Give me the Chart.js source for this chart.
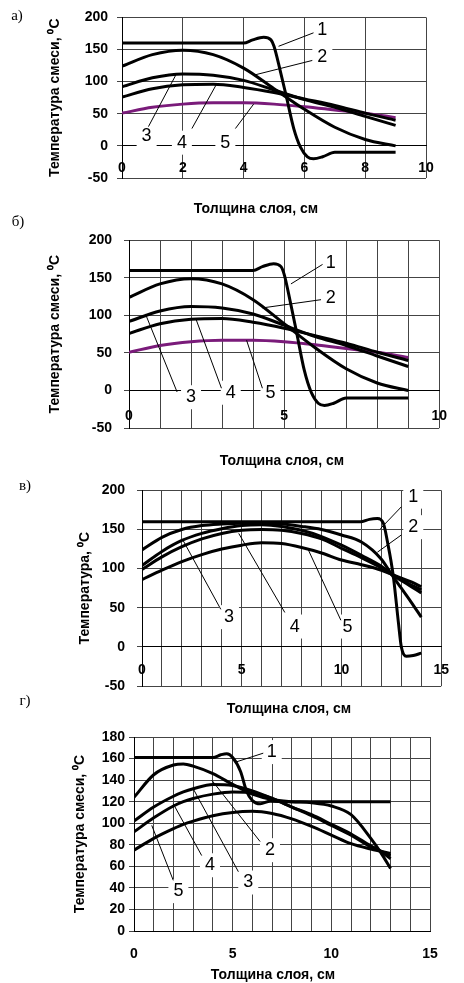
<!DOCTYPE html>
<html>
<head>
<meta charset="utf-8">
<script src="https://cdn.jsdelivr.net/npm/chart.js@4.4.1/dist/chart.umd.min.js"></script>
<style>
  html, body { margin: 0; padding: 0; background: #fff; }
  #page { position: relative; width: 464px; height: 983px; overflow: hidden; }
  #page canvas { position: absolute; left: 0; }
  .txt { position: absolute; transform: translate(-50%, -50%); white-space: nowrap; color: #000; }
  .letter { font: 15px 'Liberation Serif', 'Times New Roman', serif; }
  .xtitle { font: bold 14px 'Liberation Sans', Arial, sans-serif; }
</style>
</head>
<body>
<div id="page">
  <canvas id="chart-a" width="464" height="220" style="top:0px"></canvas>
  <canvas id="chart-b" width="464" height="250" style="top:220px"></canvas>
  <canvas id="chart-c" width="464" height="250" style="top:470px"></canvas>
  <canvas id="chart-d" width="464" height="263" style="top:720px"></canvas>

  <div class="txt letter" style="left:17px;top:15px">а)</div>
  <div class="txt letter" style="left:18px;top:221px">б)</div>
  <div class="txt letter" style="left:25px;top:485px">в)</div>
  <div class="txt letter" style="left:25px;top:700px">г)</div>

  <div class="txt xtitle" style="left:256px;top:208px">Толщина слоя, см</div>
  <div class="txt xtitle" style="left:282px;top:460px">Толщина слоя, см</div>
  <div class="txt xtitle" style="left:289px;top:708px">Толщина слоя, см</div>
  <div class="txt xtitle" style="left:273px;top:974px">Толщина слоя, см</div>
</div>
<script>
// а) и б): same curves
const xA1 = [0, 1, 2, 3, 4, 4.3, 4.66, 4.9, 5.0, 5.2, 5.4, 5.65, 5.87, 6.1, 6.3, 6.6, 7, 8, 9];
const yA1 = [160, 160, 160, 160, 160, 165, 169, 165, 155, 118, 78, 27, -2, -17, -20, -17, -10, -10, -10];
const xA = [0, 1, 2, 3, 4, 5, 6, 7, 8, 9];
const yA2 = [124, 142, 149, 142, 121, 89, 57, 29, 10, 0];
const yA3 = [92, 106, 112, 110, 102, 87, 72, 60, 46, 32];
const yA4 = [76, 89, 95, 96, 91, 83, 73, 63, 51, 40];
const yA5 = [51, 60, 65, 67, 67, 65, 61, 56, 51, 44];

// в)
const xC1 = [0, 2, 4, 6, 8, 10, 11, 11.4, 11.8, 12.1, 12.3, 12.6, 12.85, 13.0, 13.25, 13.6, 14];
const yC1 = [160, 160, 160, 160, 160, 160, 160, 163, 164, 158, 135, 90, 32, 0, -12, -11, -8];
const xC = [0, 1, 2, 3, 4, 5, 6, 7, 8, 9, 10, 11, 12, 12.5, 13, 13.5, 14];
const yC2 = [124, 140, 150, 155, 157, 158, 158, 157, 154, 150, 143, 134, 112, 93, 75, 57, 38];
const yC3 = [104, 122, 136, 145, 151, 155, 156, 154, 149, 141, 130, 117, 103, 93, 85, 77, 69];
const yC4 = [99, 115, 128, 138, 145, 149, 150, 149, 145, 138, 126, 114, 101, 93, 86, 79, 73];
const yC5 = [86, 98, 109, 118, 125, 130, 133, 132, 127, 120, 111, 105, 98, 93, 88, 83, 77];

// г)
const xD1 = [0, 2, 4, 4.4, 4.7, 5.0, 5.4, 5.7, 6.0, 6.4, 6.9, 8, 10, 13];
const yD1 = [161, 161, 161, 163.5, 164.5, 161, 148, 130, 121, 118, 120.5, 120, 120, 120];
const xD = [0, 1, 2, 2.5, 3, 4, 5, 6, 7, 8, 9, 10, 11, 12, 12.5, 13];
const yD2 = [124, 145, 154, 155, 153, 146, 136, 127, 122, 120, 119, 116, 108, 86, 73, 58];
const yD3 = [102, 115, 125, 129, 132, 136, 135, 130, 123, 115, 108, 99, 90, 79, 74, 67];
const yD4 = [92, 105, 116, 120, 123, 127, 129, 128, 123, 115, 107, 98, 89, 78, 74, 70];
const yD5 = [75, 86, 95, 99, 102, 107, 110, 111, 109, 104, 97, 89, 81, 76, 74, 72];

// curve labels: [text, textX, textY, lineFromX, lineFromY, lineToX, lineToY] in data units
const labelsA = [
    ['1', 6.59, 180, 6.3, 176, 5.15, 155],
    ['2', 6.59, 138, 6.26, 133, 4.33, 110],
    ['3', 0.81, 15, 0.87, 30, 1.8, 113],
    ['4', 1.97, 5, 2.3, 27, 3.12, 97],
    ['5', 3.4, 5, 3.73, 27, 4.33, 65],
];
const labelsB = [
    ['1', 6.5, 170, 6.24, 168, 5.22, 142],
    ['2', 6.5, 123, 6.19, 121, 4.3, 110],
    ['3', 2.0, -9, 1.55, -2, 0.53, 102],
    ['4', 3.28, -3, 2.98, 3, 2.16, 95],
    ['5', 4.56, -3, 4.3, 3, 3.79, 67],
];
const labelsC = [
    ['1', 13.6, 192, 13.0, 179, 11.95, 151],
    ['2', 13.6, 153, 13.0, 143, 11.8, 121],
    ['3', 4.36, 38, 3.95, 48, 2.04, 137],
    ['4', 7.66, 26, 7.16, 44, 4.85, 145],
    ['5', 10.3, 26, 9.97, 34, 8.32, 125],
];
const labelsD = [
    ['1', 6.98, 166, 6.55, 165, 5.2, 157],
    ['2', 6.89, 75, 6.39, 83, 3.94, 140],
    ['3', 5.79, 45, 5.29, 55, 3.0, 132],
    ['4', 3.85, 61, 3.43, 70, 1.99, 118],
    ['5', 2.25, 37, 1.99, 47, 0.9, 98],
];

const PURPLE = 'rgb(122, 27, 122)';
const FONT = "'Liberation Sans', Arial, sans-serif";

const calloutPlugin = {
    id: 'callouts',
    afterDatasetsDraw(chart, args, opts) {
        const { ctx } = chart;
        const x = chart.scales.x;
        const y = chart.scales.y;
        ctx.save();
        ctx.font = '18px ' + FONT;
        ctx.textAlign = 'center';
        ctx.textBaseline = 'middle';
        (opts.items || []).forEach(([text, tx, ty, fx, fy, ex, ey]) => {
            const px = x.getPixelForValue(tx);
            const py = y.getPixelForValue(ty);
            ctx.fillStyle = '#fff';
            ctx.fillRect(px - 10, py - 12, 20, 24);
            ctx.strokeStyle = '#000';
            ctx.lineWidth = 1;
            ctx.beginPath();
            ctx.moveTo(x.getPixelForValue(fx), y.getPixelForValue(fy));
            ctx.lineTo(x.getPixelForValue(ex), y.getPixelForValue(ey));
            ctx.stroke();
            ctx.fillStyle = '#000';
            ctx.fillText(text, px, py);
        });
        ctx.restore();
    },
};

function curve(xs, ys, color) {
    return {
        data: xs.map((v, i) => ({ x: v, y: ys[i] })),
        borderColor: color || '#000',
        borderWidth: 3,
        pointRadius: 0,
        fill: false,
        cubicInterpolationMode: 'monotone',
    };
}

function panel(id, o) {
    const tickFont = { family: FONT, size: 14, weight: 'bold' };
    new Chart(document.getElementById(id), {
        type: 'line',
        data: { datasets: o.datasets },
        options: {
            responsive: false,
            animation: false,
            layout: { padding: o.padding },
            plugins: {
                legend: { display: false },
                tooltip: { enabled: false },
                callouts: { items: o.callouts },
            },
            scales: {
                x: {
                    type: 'linear',
                    min: 0,
                    max: o.xMax,
                    position: o.xAtZero ? { y: 0 } : 'bottom',
                    afterFit: o.xHeight ? (s) => { s.height = o.xHeight; } : undefined,
                    grid: { color: '#444', drawTicks: false },
                    border: { color: '#000' },
                    ticks: {
                        stepSize: o.xStep,
                        autoSkip: false,
                        maxRotation: 0,
                        padding: o.xPad,
                        color: '#000',
                        font: tickFont,
                        callback: (v) => (v % o.xLabelEvery === 0 ? v : ''),
                    },
                },
                y: {
                    min: o.yMin,
                    max: o.yMax,
                    afterFit: (s) => { s.width = o.yWidth; },
                    grid: { color: '#444', tickLength: 5 },
                    border: { color: '#000' },
                    ticks: { stepSize: o.yStep, padding: o.yPad, color: '#000', font: tickFont },
                    title: {
                        display: true,
                        text: o.yTitle,
                        color: '#000',
                        font: { family: FONT, size: 14, weight: 'bold' },
                        padding: { top: o.yTitlePad, bottom: 0 },
                    },
                },
            },
        },
        plugins: [calloutPlugin],
    });
}

const setA = [
    curve(xA1, yA1),
    curve(xA, yA2),
    curve(xA, yA3),
    curve(xA, yA4),
    curve(xA, yA5, PURPLE),
];
const setB = [
    curve(xA1, yA1),
    curve(xA, yA2),
    curve(xA, yA3),
    curve(xA, yA4),
    curve(xA, yA5, PURPLE),
];

panel('chart-a', {
    datasets: setA,
    callouts: labelsA,
    padding: { top: 12, bottom: 42, left: 0, right: 38 },
    xMax: 10, xStep: 2, xLabelEvery: 2, xAtZero: true, xPad: 14,
    yMin: -50, yMax: 200, yStep: 50, yWidth: 122, yPad: 9, yTitlePad: 47,
    yTitle: 'Температура смеси, ⁰С',
});

panel('chart-b', {
    datasets: setB,
    callouts: labelsB,
    padding: { top: 14, bottom: 42, left: 0, right: 8 },
    xMax: 10, xStep: 1, xLabelEvery: 5, xAtZero: true, xPad: 17,
    yMin: -50, yMax: 200, yStep: 50, yWidth: 129, yPad: 12, yTitlePad: 47,
    yTitle: 'Температура смеси, ⁰С',
});

panel('chart-c', {
    datasets: [
        curve(xC1, yC1),
        curve(xC, yC2),
        curve(xC, yC3),
        curve(xC, yC4),
        curve(xC, yC5),
    ],
    callouts: labelsC,
    padding: { top: 7, bottom: 34, left: 0, right: 19 },
    xMax: 15, xStep: 1, xLabelEvery: 5, xAtZero: true, xPad: 15,
    yMin: -50, yMax: 200, yStep: 50, yWidth: 142, yPad: 12, yTitlePad: 77,
    yTitle: 'Температура, ⁰С',
});

panel('chart-d', {
    datasets: [
        curve(xD1, yD1),
        curve(xD, yD2),
        curve(xD, yD3),
        curve(xD, yD4),
        curve(xD, yD5),
    ],
    callouts: labelsD,
    padding: { top: 17, bottom: 0, left: 0, right: 34 },
    xMax: 15, xStep: 1, xLabelEvery: 5, xAtZero: false, xPad: 15, xHeight: 52,
    yMin: 0, yMax: 180, yStep: 20, yWidth: 134, yPad: 4, yTitlePad: 72,
    yTitle: 'Температура смеси, ⁰С',
});
</script>
</body>
</html>
